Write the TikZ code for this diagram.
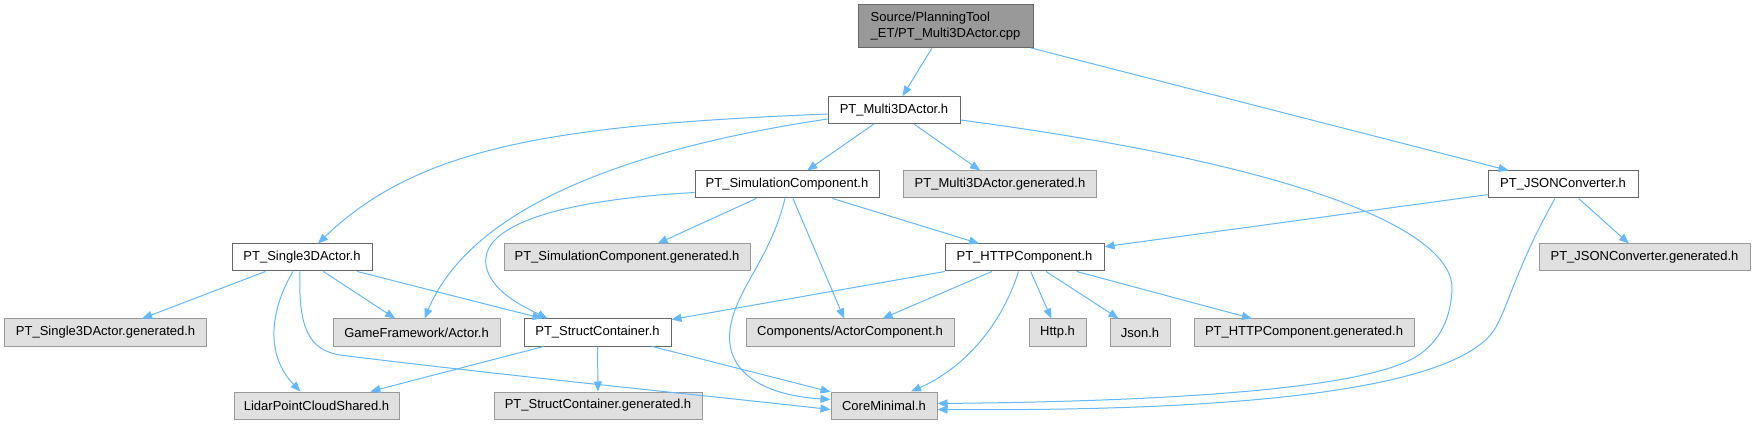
\documentclass[tikz,border=0pt]{standalone}
\usepackage{fontspec}
\setmainfont{Liberation Sans}
\usetikzlibrary{arrows.meta,calc}
\definecolor{doxedge}{HTML}{63B8FF}
\definecolor{doxdark}{HTML}{666666}
\definecolor{doxgray}{HTML}{999999}
\definecolor{doxfill}{HTML}{E0E0E0}
\tikzset{
  box/.style={draw=doxdark,fill=white,line width=1pt,inner sep=0pt,minimum height=27pt,font=\fontsize{13}{15.5}\selectfont},
  genbox/.style={box,draw=doxgray,fill=doxfill},
  rootbox/.style={box,fill=doxgray,align=left,minimum height=43pt},
  ar/.style={-{Triangle[length=10pt,width=8pt]},draw=doxedge,line width=1pt},
}
\begin{document}
\begin{tikzpicture}[x=1pt,y=-1pt]
  \fill[white] (0,0) rectangle (1755,427);
  \node[rootbox,minimum width=175pt] (root) at (945.5,26) {Source/PlanningTool\\\_ET/PT\_Multi3DActor.cpp};
  \node[box,minimum width=132pt] (multi) at (894,110) {PT\_Multi3DActor.h};
  \node[box,minimum width=184pt] (sim) at (787,184.5) {PT\_SimulationComponent.h};
  \node[genbox,minimum width=193pt] (multigen) at (1000,184.5) {PT\_Multi3DActor.generated.h};
  \node[box,minimum width=150pt] (json) at (1563,184.5) {PT\_JSONConverter.h};
  \node[box,minimum width=140pt] (single) at (302,257.5) {PT\_Single3DActor.h};
  \node[genbox,minimum width=246pt] (simgen) at (627,257.5) {PT\_SimulationComponent.generated.h};
  \node[box,minimum width=159pt] (http) at (1024.5,257.5) {PT\_HTTPComponent.h};
  \node[genbox,minimum width=211pt] (jsongen) at (1644.5,257.5) {PT\_JSONConverter.generated.h};
  \node[genbox,minimum width=202pt] (singlegen) at (105.6,332.5) {PT\_Single3DActor.generated.h};
  \node[genbox,minimum width=167pt] (actor) at (416.5,332.5) {GameFramework/Actor.h};
  \node[box,minimum width=147pt] (struct) at (597.5,332.5) {PT\_StructContainer.h};
  \node[genbox,minimum width=208pt] (actcomp) at (850,332.5) {Components/ActorComponent.h};
  \node[genbox,minimum width=57pt] (httph) at (1057.5,332.5) {Http.h};
  \node[genbox,minimum width=60pt] (jsonh) at (1140,332.5) {Json.h};
  \node[genbox,minimum width=220pt] (httpgen) at (1304,332.5) {PT\_HTTPComponent.generated.h};
  \node[genbox,minimum width=165pt] (lidar) at (316.5,405.5) {LidarPointCloudShared.h};
  \node[genbox,minimum width=208pt] (structgen) at (598,405.5) {PT\_StructContainer.generated.h};
  \node[genbox,minimum width=106pt] (core) at (884,405.5) {CoreMinimal.h};

  \draw[ar] (root) -- (multi);
  \draw[ar] (root) -- (json);
  \draw[ar] ($(multi.west)+(0,4)$) .. controls (560,125) and (420,145) .. ($(single.north)+(16,0)$);
  \draw[ar] ($(multi.west)+(0,9)$) .. controls (620,150) and (470,210) .. ($(actor.north)+(8,0)$);
  \draw[ar] (multi) -- (sim);
  \draw[ar] (multi) -- (multigen);
  \draw[ar] ($(multi.east)+(0,10)$) .. controls (1300,165) and (1455,230) .. (1452,290)
    .. controls (1450,330) and (1430,350) .. (1410,360)
    .. controls (1340,395) and (1100,402) .. ($(core.east)+(0,-2)$);
  \draw[ar] (sim) -- (simgen);
  \draw[ar] ($(sim.west)+(0,8)$) .. controls (560,200) and (480,225) .. (486,265)
    .. controls (490,290) and (520,305) .. ($(struct.north)+(-50,0)$);
  \draw[ar] ($(sim.south)+(-2,0)$) .. controls (770,260) and (735,290) .. (730,330)
    .. controls (725,370) and (760,395) .. ($(core.west)+(0,-6)$);
  \draw[ar] (sim) -- (actcomp);
  \draw[ar] (sim) -- (http);
  \draw[ar] (json) -- (http);
  \draw[ar] (json) -- (jsongen);
  \draw[ar] ($(json.south)+(-8,0)$) .. controls (1520,260) and (1510,300) .. (1497,325)
    .. controls (1470,380) and (1300,412) .. ($(core.east)+(0,4)$);
  \draw[ar] (single) -- (singlegen);
  \draw[ar] ($(single.south)+(-9,0)$) .. controls (270,310) and (265,355) .. ($(lidar.north)+(-16,0)$);
  \draw[ar] (single) -- (actor);
  \draw[ar] (single) -- (struct);
  \draw[ar] ($(single.south)+(-2,0)$) .. controls (298,330) and (310,350) .. (340,355)
    .. controls (500,375) and (700,395) .. ($(core.west)+(0,4)$);
  \draw[ar] (http) -- (struct);
  \draw[ar] (http) -- (actcomp);
  \draw[ar] (http) -- (httph);
  \draw[ar] (http) -- (jsonh);
  \draw[ar] (http) -- (httpgen);
  \draw[ar] ($(http.south)+(-6,0)$) .. controls (1000,330) and (960,370) .. ($(core.north)+(27,0)$);
  \draw[ar] (struct) -- (lidar);
  \draw[ar] (struct) -- (structgen);
  \draw[ar] (struct) -- (core);
\end{tikzpicture}
\end{document}
